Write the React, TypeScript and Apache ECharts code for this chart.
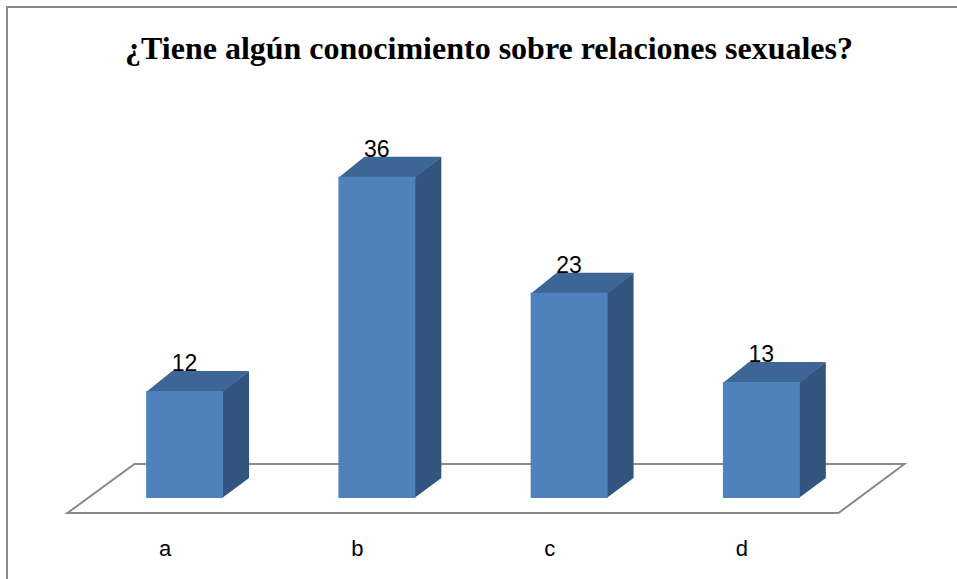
import React, { useEffect, useRef } from "react";
import * as echarts from "echarts";

const titleText = "¿Tiene algún conocimiento sobre relaciones sexuales?";
const categories = ["a", "b", "c", "d"];
const values = [12, 36, 23, 13];
const yMin = 0;
const yMax = 40;

const FRONT = "#4F81BD";
const TOP = "#3D6697";
const SIDE = "#32547F";

export default function App() {
  const ref = useRef<HTMLDivElement>(null);
  useEffect(() => {
    if (!ref.current) return;
    const chart = echarts.init(ref.current, null, { renderer: "svg" });
    const barData = categories.map((c, i) => [i, values[i]]);
    const option = {
      animation: false,
      backgroundColor: "#ffffff",
      title: {
        text: titleText,
        left: 484,
        top: 27,
        textAlign: "center",
        textStyle: {
          fontFamily: "'Liberation Serif', 'Times New Roman', serif",
          fontWeight: "bold",
          fontSize: 32,
          color: "#000",
        },
      },
      graphic: [
        {
          type: "rect",
          shape: { x: 7, y: 7, width: 1000, height: 1000 },
          style: { fill: "none", stroke: "#8a8a8a", lineWidth: 2 },
          silent: true,
        },
      ],
      grid: { left: 88.5, right: 99.5, top: 141, bottom: 81 },
      xAxis: {
        type: "category",
        data: categories,
        axisLine: { show: false },
        axisTick: { show: false },
        splitLine: { show: false },
        axisLabel: {
          margin: 39,
          fontSize: 22,
          lineHeight: 22,
          padding: [0, 39, 0, 0],
          color: "#000",
          fontFamily: "'Liberation Sans', Arial, sans-serif",
        },
      },
      yAxis: {
        type: "value",
        min: yMin,
        max: yMax,
        show: false,
        splitLine: { show: false },
      },
      series: [
        {
          type: "custom",
          z: 1,
          data: [[0, 0]],
          silent: true,
          renderItem: (params: any, api: any) => {
            const cs = params.coordSys;
            const y0 = cs.y + cs.height;
            const pts = [
              [cs.x - 21, y0 + 15],
              [cs.x + cs.width - 19, y0 + 15],
              [cs.x + cs.width + 47, y0 - 34],
              [cs.x + 46, y0 - 34],
            ];
            return {
              type: "polygon",
              shape: { points: pts },
              style: { fill: "#ffffff", stroke: "#8a8a8a", lineWidth: 2 },
            };
          },
        },
        {
          type: "custom",
          z: 2,
          data: barData,
          encode: { x: 0, y: 1 },
          renderItem: (params: any, api: any) => {
            const idx = api.value(0);
            const v = api.value(1);
            const top = api.coord([idx, v]);
            const base = api.coord([idx, 0]);
            const w = api.size([1, 0])[0] * 0.4;
            const x0 = top[0] - w / 2;
            const x1 = top[0] + w / 2;
            const dx = 26;
            const dy = -20;
            return {
              type: "group",
              children: [
                {
                  type: "polygon",
                  shape: {
                    points: [
                      [x1 - 1, top[1] + 1],
                      [x1 + dx, top[1] + dy],
                      [x1 + dx, base[1] + dy],
                      [x1 - 1, base[1]],
                    ],
                  },
                  style: { fill: SIDE },
                },
                {
                  type: "polygon",
                  shape: {
                    points: [
                      [x0, top[1] + 1],
                      [x0 + dx, top[1] + dy],
                      [x1 + dx, top[1] + dy],
                      [x1, top[1] + 1],
                    ],
                  },
                  style: { fill: TOP },
                },
                {
                  type: "rect",
                  shape: { x: x0, y: top[1], width: w, height: base[1] - top[1] },
                  style: { fill: FRONT },
                },
                {
                  type: "text",
                  style: {
                    text: String(v),
                    x: top[0],
                    y: top[1] + dy + 4,
                    align: "center",
                    verticalAlign: "bottom",
                    fontSize: 23,
                    fontFamily: "'Liberation Sans', Arial, sans-serif",
                    fill: "#000",
                  },
                  z2: 10,
                },
              ],
            };
          },
        },
      ],
    };
    chart.setOption(option as any);
    return () => chart.dispose();
  }, []);
  return (
    <div
      ref={ref}
      style={{ position: "fixed", left: 0, top: 0, width: 957, height: 579 }}
    />
  );
}
